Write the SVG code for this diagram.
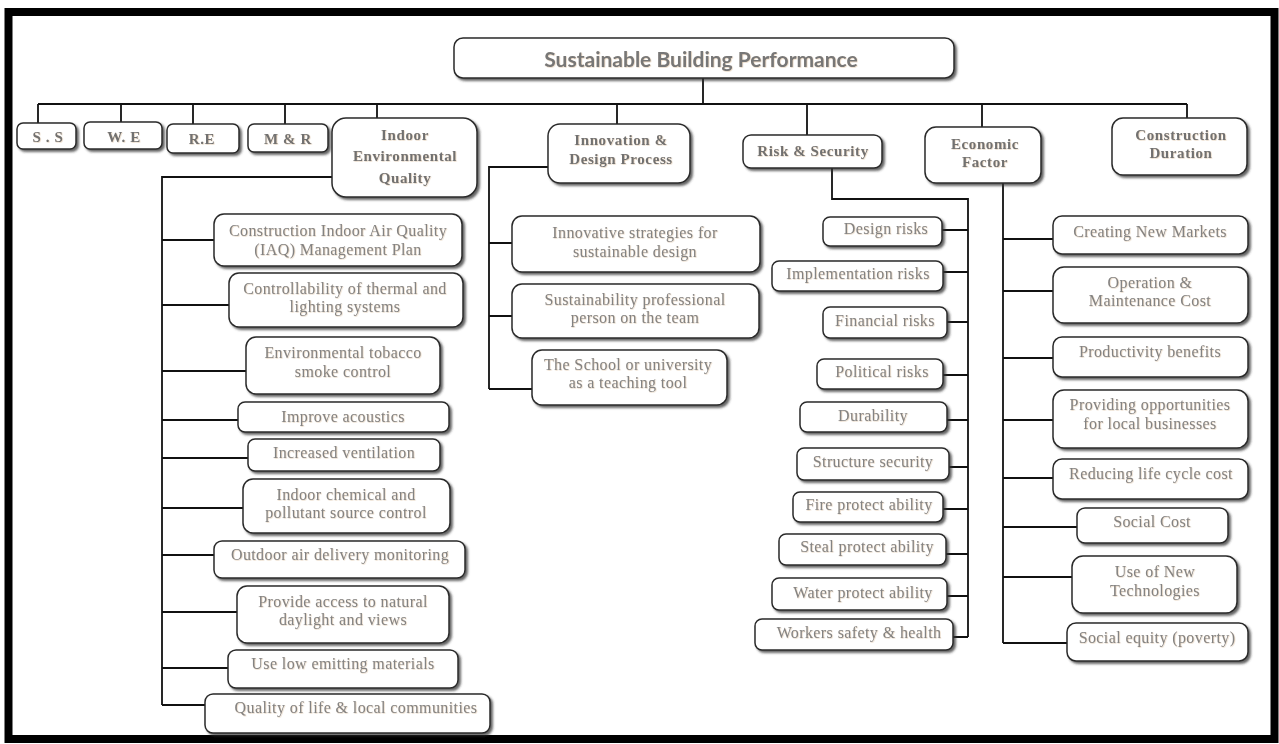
<svg xmlns="http://www.w3.org/2000/svg" width="1279" height="744" viewBox="0 0 1279 744">
<defs>
<filter id="sh" x="-10%" y="-20%" width="125%" height="150%">
<feDropShadow dx="2.2" dy="2.2" stdDeviation="1" flood-color="#333" flood-opacity="0.75"/>
</filter>
<filter id="ts" x="-5%" y="-20%" width="110%" height="140%">
<feDropShadow dx="0.6" dy="0.6" stdDeviation="0.3" flood-color="#d2b28c" flood-opacity="0.6"/>
</filter>
</defs>
<style>
.box{fill:#fff;stroke:#2a2a2a;stroke-width:1.5;filter:url(#sh)}
.t{font-family:"Liberation Serif",serif;font-size:16px;fill:#838383;text-anchor:middle;letter-spacing:0.4px;filter:url(#ts)}
.h{font-family:"Liberation Serif",serif;font-weight:bold;font-size:15px;fill:#717171;text-anchor:middle;letter-spacing:0.6px;filter:url(#ts)}
.ttl{font-family:Lato,"Open Sans",sans-serif;font-weight:bold;font-size:21px;fill:#777;text-anchor:middle;filter:url(#ts)}
.ln{stroke:#111;stroke-width:1.8;fill:none}
</style>
<rect x="0" y="0" width="1279" height="744" fill="#fff"/>
<rect x="8.5" y="12" width="1266" height="727" fill="none" stroke="#000" stroke-width="8"/>

<g id="connectors">
<path class="ln" d="M703 78V104M38 104H1187M38 104V123M121 104V122M193 104V124M285 104V124M377 104V118M617 104V124M807 104V135M982 104V127M1187 104V118"/>
<path class="ln" d="M332 177H162V705M162 240H214M162 305H229M162 371H246M162 420H238M162 458H248M162 508H243M162 555H214M162 612H237M162 668H228M162 705H205"/>
<path class="ln" d="M548 167H489V389M489 243H512M489 316H512M489 389H532"/>
<path class="ln" d="M832 168V199H968V637M942 230H968M943 272H968M947 322H968M943 375H968M947 420H968M949 467H968M943 509H968M946 554H968M947 596H968M953 637H968"/>
<path class="ln" d="M1003 183V643M1003 239H1053M1003 291H1053M1003 358H1053M1003 420H1053M1003 478H1053M1003 527H1077M1003 577H1072M1003 643H1067"/>
</g>

<g id="title"><rect class="box" x="454" y="38" width="500" height="40" rx="9"/><text class="ttl" x="701" y="67">Sustainable Building Performance</text></g>

<g id="ss"><rect class="box" x="17" y="123" width="59" height="26" rx="6"/><text class="h" x="48" y="142">S . S</text></g>
<g id="we"><rect class="box" x="84" y="122" width="78" height="27" rx="6"/><text class="h" x="124" y="142">W. E</text></g>
<g id="re"><rect class="box" x="167" y="124" width="72" height="29" rx="6"/><text class="h" x="202" y="144">R.E</text></g>
<g id="mr"><rect class="box" x="248" y="124" width="80" height="28" rx="6"/><text class="h" x="288" y="144">M &amp; R</text></g>
<g id="ieq"><rect class="box" x="332" y="118" width="145" height="79" rx="14"/>
<text class="h" x="405" y="140">Indoor</text><text class="h" x="405" y="161">Environmental</text><text class="h" x="405" y="183">Quality</text></g>
<g id="idp"><rect class="box" x="548" y="124" width="142" height="59" rx="12"/>
<text class="h" x="621" y="145">Innovation &amp;</text><text class="h" x="621" y="164">Design Process</text></g>
<g id="risk"><rect class="box" x="743" y="135" width="139" height="33" rx="8"/><text class="h" x="813" y="156">Risk &amp; Security</text></g>
<g id="econ"><rect class="box" x="925" y="127" width="116" height="56" rx="11"/>
<text class="h" x="985" y="149">Economic</text><text class="h" x="985" y="167">Factor</text></g>
<g id="cd"><rect class="box" x="1112" y="118" width="135" height="57" rx="11"/>
<text class="h" x="1181" y="140">Construction</text><text class="h" x="1181" y="158">Duration</text></g>

<g id="ieq1"><rect class="box" x="214" y="214" width="248" height="52" rx="10"/><text class="t" x="338" y="236">Construction Indoor Air Quality</text><text class="t" x="338" y="255">(IAQ) Management Plan</text></g>
<g id="ieq2"><rect class="box" x="229" y="273" width="234" height="54" rx="10"/><text class="t" x="345" y="294">Controllability of thermal and</text><text class="t" x="345" y="312">lighting systems</text></g>
<g id="ieq3"><rect class="box" x="246" y="337" width="194" height="57" rx="10"/><text class="t" x="343" y="358">Environmental tobacco</text><text class="t" x="343" y="377">smoke control</text></g>
<g id="ieq4"><rect class="box" x="238" y="402" width="211" height="30" rx="7"/><text class="t" x="343" y="422">Improve acoustics</text></g>
<g id="ieq5"><rect class="box" x="248" y="439" width="192" height="32" rx="7"/><text class="t" x="344" y="458">Increased ventilation</text></g>
<g id="ieq6"><rect class="box" x="243" y="479" width="207" height="54" rx="10"/><text class="t" x="346" y="500">Indoor chemical and</text><text class="t" x="346" y="518">pollutant source control</text></g>
<g id="ieq7"><rect class="box" x="214" y="541" width="251" height="37" rx="8"/><text class="t" x="340" y="560">Outdoor air delivery monitoring</text></g>
<g id="ieq8"><rect class="box" x="237" y="586" width="212" height="57" rx="10"/><text class="t" x="343" y="607">Provide access to natural</text><text class="t" x="343" y="625">daylight and views</text></g>
<g id="ieq9"><rect class="box" x="228" y="650" width="230" height="38" rx="8"/><text class="t" x="343" y="669">Use low emitting materials</text></g>
<g id="ieq10"><rect class="box" x="205" y="694" width="285" height="39" rx="8"/><text class="t" x="356" y="713">Quality of life &amp; local communities</text></g>

<g id="idp1"><rect class="box" x="512" y="216" width="248" height="56" rx="10"/><text class="t" x="635" y="238">Innovative strategies for</text><text class="t" x="635" y="257">sustainable design</text></g>
<g id="idp2"><rect class="box" x="512" y="284" width="247" height="54" rx="10"/><text class="t" x="635" y="305">Sustainability professional</text><text class="t" x="635" y="323">person on the team</text></g>
<g id="idp3"><rect class="box" x="532" y="350" width="195" height="55" rx="10"/><text class="t" x="628" y="370">The School or university</text><text class="t" x="628" y="388">as a teaching tool</text></g>

<g id="r1"><rect class="box" x="823" y="217" width="119" height="29" rx="7"/><text class="t" x="886" y="234">Design risks</text></g>
<g id="r2"><rect class="box" x="772" y="261" width="171" height="30" rx="7"/><text class="t" x="858" y="279">Implementation risks</text></g>
<g id="r3"><rect class="box" x="823" y="307" width="124" height="31" rx="7"/><text class="t" x="885" y="326">Financial risks</text></g>
<g id="r4"><rect class="box" x="817" y="359" width="126" height="30" rx="7"/><text class="t" x="882" y="377">Political risks</text></g>
<g id="r5"><rect class="box" x="800" y="402" width="147" height="30" rx="7"/><text class="t" x="873" y="421">Durability</text></g>
<g id="r6"><rect class="box" x="797" y="448" width="152" height="32" rx="7"/><text class="t" x="873" y="467">Structure security</text></g>
<g id="r7"><rect class="box" x="793" y="492" width="150" height="30" rx="7"/><text class="t" x="869" y="510">Fire protect ability</text></g>
<g id="r8"><rect class="box" x="779" y="534" width="167" height="31" rx="7"/><text class="t" x="867" y="552">Steal protect ability</text></g>
<g id="r9"><rect class="box" x="772" y="578" width="175" height="32" rx="7"/><text class="t" x="863" y="598">Water protect ability</text></g>
<g id="r10"><rect class="box" x="755" y="619" width="198" height="31" rx="7"/><text class="t" x="859" y="638">Workers safety &amp; health</text></g>

<g id="e1"><rect class="box" x="1053" y="216" width="195" height="38" rx="9"/><text class="t" x="1150" y="237">Creating New Markets</text></g>
<g id="e2"><rect class="box" x="1053" y="267" width="195" height="56" rx="11"/><text class="t" x="1150" y="288">Operation &amp;</text><text class="t" x="1150" y="306">Maintenance Cost</text></g>
<g id="e3"><rect class="box" x="1053" y="337" width="195" height="40" rx="9"/><text class="t" x="1150" y="357">Productivity benefits</text></g>
<g id="e4"><rect class="box" x="1053" y="390" width="195" height="58" rx="11"/><text class="t" x="1150" y="410">Providing opportunities</text><text class="t" x="1150" y="429">for local businesses</text></g>
<g id="e5"><rect class="box" x="1053" y="459" width="195" height="40" rx="9"/><text class="t" x="1151" y="479">Reducing life cycle cost</text></g>
<g id="e6"><rect class="box" x="1077" y="508" width="151" height="35" rx="8"/><text class="t" x="1152" y="527">Social Cost</text></g>
<g id="e7"><rect class="box" x="1072" y="556" width="165" height="57" rx="11"/><text class="t" x="1155" y="577">Use of New</text><text class="t" x="1155" y="596">Technologies</text></g>
<g id="e8"><rect class="box" x="1067" y="623" width="181" height="38" rx="9"/><text class="t" x="1157" y="643">Social equity (poverty)</text></g>
</svg>
